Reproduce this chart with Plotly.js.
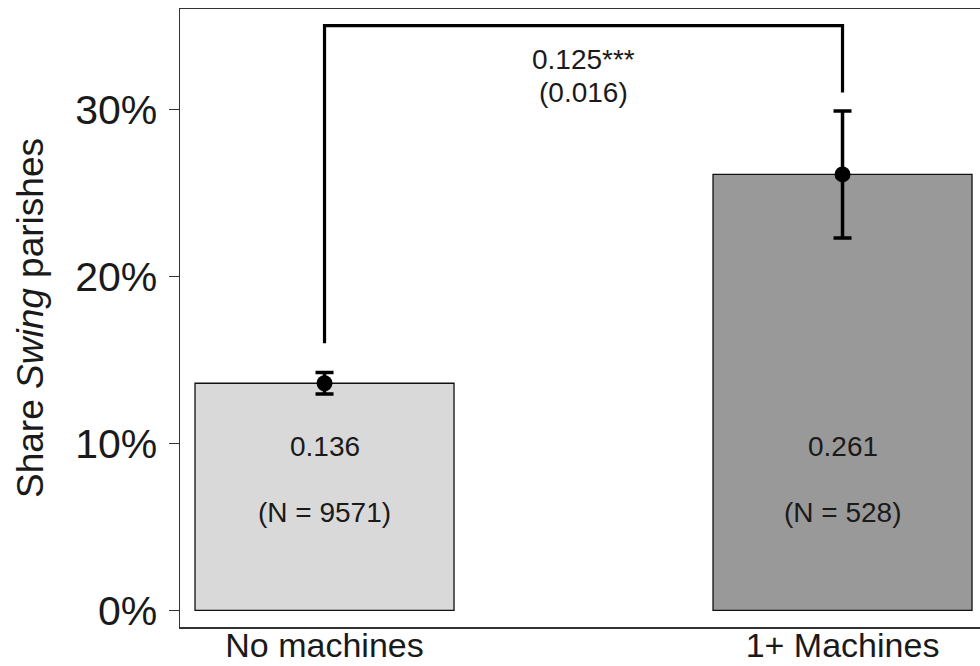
<!DOCTYPE html>
<html>
<head>
<meta charset="utf-8">
<script src="https://cdn.plot.ly/plotly-3.0.1.min.js"></script>
<style>
  html, body { margin: 0; padding: 0; background: #fff; overflow: hidden; }
  #chart { width: 980px; height: 666px; }
</style>
</head>
<body>
<div id="chart"></div>
<script>
// ---- data ----
const categories = ["No machines", "1+ Machines"];
const shares = [0.136, 0.261];
const shareErrors = [0.0065, 0.038];
const counts = [9571, 528];
const barColors = ["#d9d9d9", "#999999"];
const diffEstimate = 0.125;
const diffSE = 0.016;
const diffStars = "***";
const bracketY = [0.16, 0.35, 0.35, 0.31];
const yTickVals = [0, 0.1, 0.2, 0.3];
const yTickText = ["0%", "10%", "20%", "30%"];

const FONT = "Liberation Sans, Arial, Helvetica, sans-serif";
const TXT = "#1a1a1a";

const traces = [
  {
    type: "bar",
    x: categories,
    y: shares,
    width: 0.5,
    marker: { color: barColors, line: { color: "#111", width: 1.3 } },
    hoverinfo: "skip",
    showlegend: false
  },
  {
    type: "scatter",
    mode: "lines",
    x: [categories[0], categories[0], categories[1], categories[1]],
    y: bracketY,
    line: { color: "#000", width: 3.2 },
    hoverinfo: "skip",
    showlegend: false
  },
  {
    type: "scatter",
    mode: "markers",
    x: categories,
    y: shares,
    marker: { color: "#000", size: 16 },
    error_y: { type: "data", array: shareErrors, visible: true, color: "#000", thickness: 3.5, width: 9 },
    hoverinfo: "skip",
    showlegend: false
  }
];

const annotations = [];
categories.forEach((c, i) => {
  annotations.push({
    x: c, y: 0.098, xref: "x", yref: "y", showarrow: false,
    text: shares[i].toFixed(3),
    font: { family: FONT, size: 28, color: TXT }
  });
  annotations.push({
    x: c, y: 0.0586, xref: "x", yref: "y", showarrow: false,
    text: "(N = " + counts[i] + ")",
    font: { family: FONT, size: 28, color: TXT }
  });
});
annotations.push({
  x: 0.5, y: 0.330, xref: "x", yref: "y", showarrow: false,
  text: diffEstimate.toFixed(3) + diffStars,
  font: { family: FONT, size: 28, color: TXT }
});
annotations.push({
  x: 0.5, y: 0.3098, xref: "x", yref: "y", showarrow: false,
  text: "(" + diffSE.toFixed(3) + ")",
  font: { family: FONT, size: 28, color: TXT }
});

const layout = {
  width: 980,
  height: 666,
  margin: { l: 180, r: 0, t: 9, b: 39, pad: 0 },
  paper_bgcolor: "#fff",
  plot_bgcolor: "#fff",
  font: { family: FONT, color: TXT },
  showlegend: false,
  xaxis: {
    type: "category",
    range: [-0.279, 1.2654],
    showline: true,
    mirror: true,
    linecolor: "#333",
    linewidth: 1.5,
    ticks: "",
    showgrid: false,
    zeroline: false,
    tickfont: { family: FONT, size: 34, color: TXT },
    ticklabelstandoff: -12
  },
  yaxis: {
    range: [-0.0099, 0.36],
    showline: true,
    linecolor: "#333",
    linewidth: 1.5,
    ticks: "outside",
    ticklen: 10,
    tickwidth: 1.3,
    tickcolor: "#333",
    tickvals: yTickVals,
    ticktext: yTickText,
    showgrid: false,
    zeroline: false,
    tickfont: { family: FONT, size: 41, color: TXT },
    ticklabelstandoff: 3,
    title: {
      text: "Share <i>Swing</i> parishes",
      font: { family: FONT, size: 37, color: TXT },
      standoff: 20
    }
  },
  annotations: annotations
};

Plotly.newPlot("chart", traces, layout, { displayModeBar: false, staticPlot: true });
</script>
</body>
</html>
